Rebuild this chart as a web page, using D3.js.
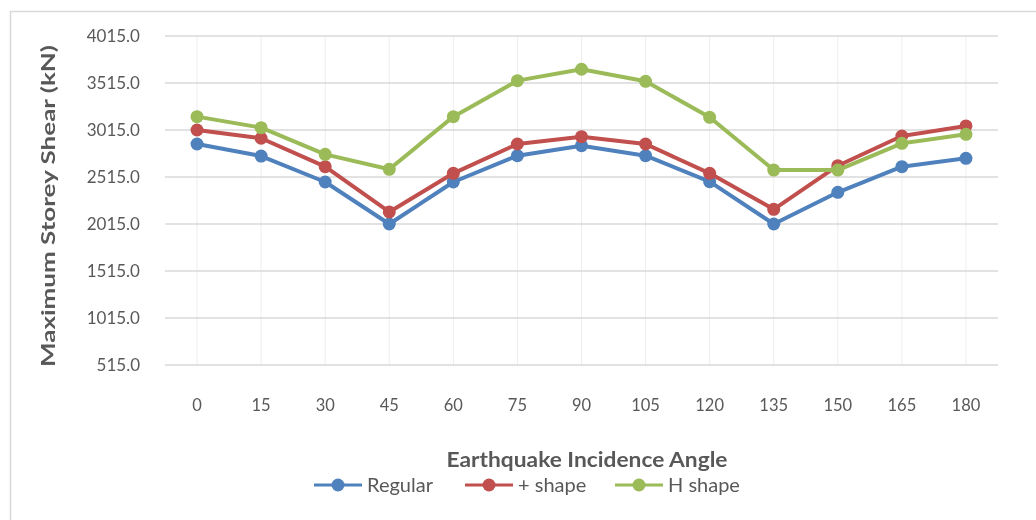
<!DOCTYPE html>
<html>
<head>
<meta charset="utf-8">
<script src="https://cdn.jsdelivr.net/npm/d3@7"></script>
<style>
  html, body { margin: 0; padding: 0; background: #fff; }
  svg { display: block; }
  text { font-family: Lato, "Open Sans", sans-serif; }
</style>
</head>
<body>
<svg id="chart" width="1036" height="520"></svg>
<script>
// Earthquake incidence angle (degrees)
const angles = [0, 15, 30, 45, 60, 75, 90, 105, 120, 135, 150, 165, 180];

// Maximum storey shear (kN) for each plan shape
const regular   = [2866, 2738, 2462, 2015, 2462, 2742, 2848, 2742, 2465, 2015, 2352, 2625, 2714];
const plusShape = [3015, 2927, 2625, 2143, 2554, 2866, 2944, 2866, 2554, 2171, 2635, 2951, 3058];
const hShape    = [3157, 3040, 2756, 2597, 3157, 3540, 3661, 3533, 3150, 2589, 2589, 2873, 2969];

const yTicks = [515, 1015, 1515, 2015, 2515, 3015, 3515, 4015];

const seriesNames  = ["Regular", "+ shape", "H shape"];
const seriesValues = [regular, plusShape, hShape];
const seriesColors = ["#4f81bd", "#c0504d", "#9bbb59"];

const svg = d3.select("#chart");

const defs = svg.append("defs");
defs.append("filter").attr("id", "soft")
  .append("feGaussianBlur").attr("stdDeviation", 0.45);

// outer chart frame (top and left edges visible)
svg.append("path")
  .attr("d", "M10.5,530 L10.5,11.5 L1040,11.5")
  .attr("fill", "none")
  .attr("stroke", "#d9d9d9")
  .attr("stroke-width", 1.5);

const x = d3.scaleBand().domain(angles).range([165, 998]);
const y = d3.scaleLinear().domain([515, 4015]).range([365, 36]);
const cx = d => x(d) + x.bandwidth() / 2;

const g = svg.append("g").attr("filter", "url(#soft)");

// vertical gridlines at each category
g.append("g").selectAll("line").data(angles).join("line")
  .attr("x1", d => cx(d)).attr("x2", d => cx(d))
  .attr("y1", y(4015)).attr("y2", y(515))
  .attr("stroke", "#ededed").attr("stroke-width", 1);

// horizontal gridlines
g.append("g").selectAll("line").data(yTicks).join("line")
  .attr("x1", 165).attr("x2", 998)
  .attr("y1", d => y(d)).attr("y2", d => y(d))
  .attr("stroke", "#d9d9d9").attr("stroke-width", 1.3);

// y axis tick labels
const yAxis = g.append("g").attr("transform", "translate(140,0)")
  .call(d3.axisLeft(y).tickValues(yTicks).tickFormat(d3.format(".1f")).tickSize(0).tickPadding(0));
yAxis.select(".domain").remove();
yAxis.selectAll("text")
  .attr("fill", "#595959")
  .style("font-size", "17px");

// x axis tick labels
const xAxis = g.append("g").attr("transform", "translate(0,399)")
  .call(d3.axisBottom(x).tickSize(0).tickPadding(0));
xAxis.select(".domain").remove();
xAxis.selectAll("text")
  .attr("fill", "#595959")
  .style("font-size", "16.5px");

// series lines and markers
const line = d3.line().x((d, i) => cx(angles[i])).y(d => y(d));
seriesValues.forEach((vals, k) => {
  g.append("path")
    .datum(vals)
    .attr("d", line)
    .attr("fill", "none")
    .attr("stroke", seriesColors[k])
    .attr("stroke-width", 4)
    .attr("stroke-linejoin", "round");
  g.append("g").selectAll("circle").data(vals).join("circle")
    .attr("cx", (d, i) => cx(angles[i]))
    .attr("cy", d => y(d))
    .attr("r", 6.5)
    .attr("fill", seriesColors[k]);
});

// axis titles
g.append("text")
  .attr("transform", "translate(55,206) rotate(-90)")
  .attr("text-anchor", "middle")
  .attr("fill", "#595959")
  .attr("font-weight", "bold")
  .attr("textLength", 322)
  .attr("lengthAdjust", "spacingAndGlyphs")
  .style("font-size", "19px")
  .text("Maximum Storey Shear (kN)");

g.append("text")
  .attr("x", 587).attr("y", 467)
  .attr("text-anchor", "middle")
  .attr("fill", "#595959")
  .attr("font-weight", "bold")
  .attr("textLength", 281)
  .attr("lengthAdjust", "spacingAndGlyphs")
  .style("font-size", "21px")
  .text("Earthquake Incidence Angle");

// legend
const legendX = [314, 465, 615];
const legend = g.append("g").attr("transform", "translate(0,485)");
seriesNames.forEach((name, k) => {
  const lg = legend.append("g").attr("transform", `translate(${legendX[k]},0)`);
  lg.append("line").attr("x1", 0).attr("x2", 48).attr("y1", 0).attr("y2", 0)
    .attr("stroke", seriesColors[k]).attr("stroke-width", 3);
  lg.append("circle").attr("cx", 24).attr("cy", 0).attr("r", 6.5).attr("fill", seriesColors[k]);
  lg.append("text").attr("x", 53).attr("y", 0).attr("dy", "0.36em")
    .attr("fill", "#595959")
    .style("font-size", "20px")
    .text(name);
});
</script>
</body>
</html>
